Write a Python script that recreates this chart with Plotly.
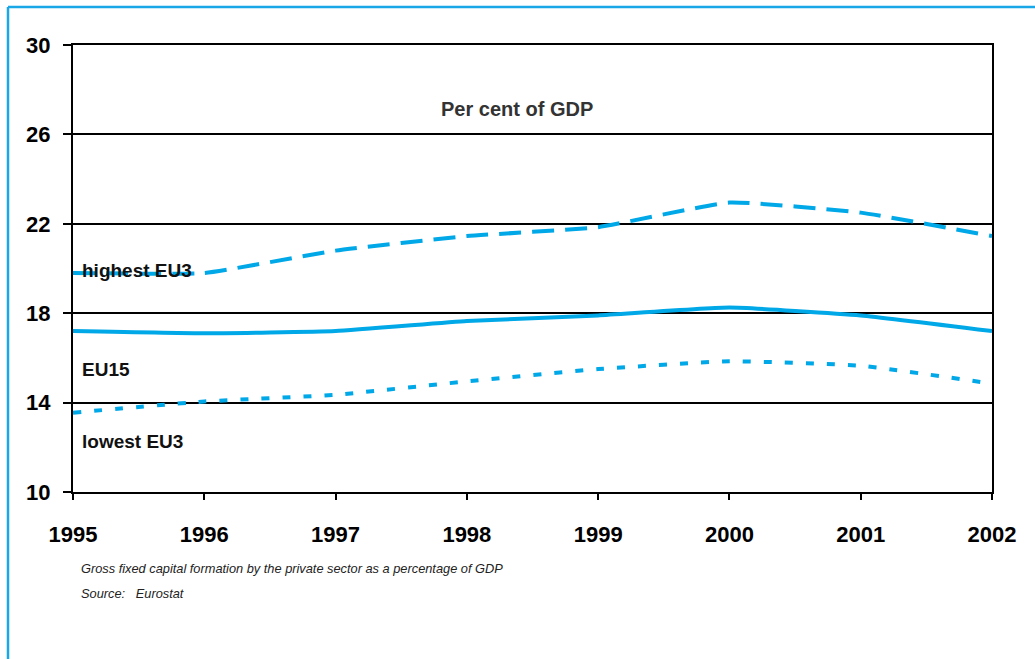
import plotly.graph_objects as go

years = [1995, 1996, 1997, 1998, 1999, 2000, 2001, 2002]
highest_eu3 = [19.8, 19.8, 20.8, 21.45, 21.85, 22.95, 22.5, 21.45]
eu15 = [17.2, 17.1, 17.2, 17.65, 17.9, 18.25, 17.9, 17.2]
lowest_eu3 = [13.55, 14.05, 14.35, 14.95, 15.5, 15.85, 15.65, 14.85]
y_ticks = [10, 14, 18, 22, 26, 30]

BLUE = "#00A8E8"
L, R, T, B = 73, 992, 45, 492
W, H = 1035, 659

def px(x):
    return (x - L) / (R - L)

def py(y):
    return (B - y) / (B - T)

fig = go.Figure()
fig.add_trace(go.Scatter(x=years, y=highest_eu3, mode="lines", name="highest EU3",
                         line=dict(color=BLUE, width=4, dash="22px,11px", shape="spline", smoothing=0.4)))
fig.add_trace(go.Scatter(x=years, y=eu15, mode="lines", name="EU15",
                         line=dict(color=BLUE, width=4, shape="spline", smoothing=0.4)))
fig.add_trace(go.Scatter(x=years, y=lowest_eu3, mode="lines", name="lowest EU3",
                         line=dict(color=BLUE, width=4, dash="8px,13px", shape="spline", smoothing=0.4)))

tick_font = dict(family="Liberation Sans, Arial, sans-serif", size=22, color="#000000")

fig.update_layout(
    width=W, height=H,
    margin=dict(l=L, r=W - R, t=T, b=H - B),
    paper_bgcolor="white", plot_bgcolor="white",
    showlegend=False,
    xaxis=dict(range=[1995, 2002], tickvals=years, ticktext=[f"<b>{y}</b>" for y in years],
               ticks="outside", ticklen=6, tickwidth=2, tickcolor="black", ticklabelstandoff=16,
               showline=True, linecolor="black", linewidth=2, mirror=True,
               showgrid=False, zeroline=False, tickfont=tick_font),
    yaxis=dict(range=[10, 30], tickvals=y_ticks, ticktext=[f"<b>{v}</b>" for v in y_ticks],
               ticks="outside", ticklen=8, tickwidth=2, tickcolor="black", ticklabelstandoff=8,
               showline=True, linecolor="black", linewidth=2, mirror=True,
               showgrid=True, gridcolor="black", gridwidth=2, zeroline=False, tickfont=tick_font),
)

lab_font = dict(family="Liberation Sans, Arial, sans-serif", size=19, color="#111111")
fig.add_annotation(x=px(80), y=19.9, xref="paper", yref="y", text="<b>highest EU3</b>",
                   showarrow=False, xanchor="left", yanchor="middle", font=lab_font)
fig.add_annotation(x=px(80), y=15.46, xref="paper", yref="y", text="<b>EU15</b>",
                   showarrow=False, xanchor="left", yanchor="middle", font=lab_font)
fig.add_annotation(x=px(80), y=12.24, xref="paper", yref="y", text="<b>lowest EU3</b>",
                   showarrow=False, xanchor="left", yanchor="middle", font=lab_font)
fig.add_annotation(x=px(517), y=27.14, xref="paper", yref="y", text="<b>Per cent of GDP</b>",
                   showarrow=False, xanchor="center", yanchor="middle",
                   font=dict(family="Liberation Sans, Arial, sans-serif", size=20, color="#333333"))

foot_font = dict(family="Liberation Sans, Arial, sans-serif", size=12.8, color="#222222")
fig.add_annotation(x=px(79), y=py(568), xref="paper", yref="paper",
                   text="<i>Gross fixed capital formation by the private sector as a percentage of GDP</i>",
                   showarrow=False, xanchor="left", yanchor="middle", font=foot_font)
fig.add_annotation(x=px(79), y=py(593), xref="paper", yref="paper",
                   text="<i>Source:   Eurostat</i>",
                   showarrow=False, xanchor="left", yanchor="middle", font=foot_font)

# outer blue frame (left and top edges visible)
fig.add_shape(type="line", xref="paper", yref="paper", x0=px(8), x1=px(8), y0=py(7), y1=py(H + 10),
              line=dict(color="#1AA7E8", width=2.5))
fig.add_shape(type="line", xref="paper", yref="paper", x0=px(8), x1=px(W + 10), y0=py(7), y1=py(7),
              line=dict(color="#1AA7E8", width=2.5))

fig.write_html("out.html")
